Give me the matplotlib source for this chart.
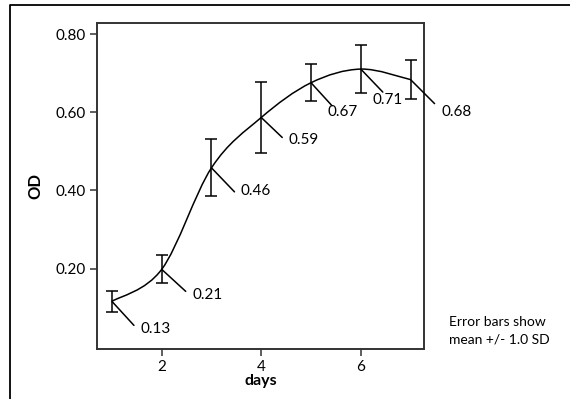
import matplotlib
matplotlib.use("Agg")
import matplotlib.pyplot as plt
from matplotlib.path import Path
from matplotlib.patches import PathPatch
import numpy as np

plt.rcParams['font.family'] = ['Lato', 'DejaVu Sans']

days = [1, 2, 3, 4, 5, 6, 7]
od_mean = [0.116, 0.198, 0.458, 0.587, 0.676, 0.711, 0.684]
od_sd = [0.026, 0.036, 0.073, 0.091, 0.048, 0.061, 0.050]
labels = ["0.13", "0.21", "0.46", "0.59", "0.67", "0.71", "0.68"]
xticks = [2, 4, 6]
yticks = [0.20, 0.40, 0.60, 0.80]
ytick_labels = ["0.20", "0.40", "0.60", "0.80"]

# label leader-line end and text offsets (pixels, right/down)
leader_off = [(22, 24), (24, 22), (23, 24), (21, 20), (21, 23), (22, 23), (24, 24)]
text_off = [(29, 28), (31, 26), (29, 23), (27, 23), (16, 29), (12, 31), (31, 32)]

fig = plt.figure(figsize=(5.70, 3.99), dpi=100)
ax = fig.add_axes([97/570, 1-349/399, (424-97)/570, (349-23)/399])

# outer border (top and left lines)
fig.add_artist(plt.Line2D([10/570, 10/570, 1.0], [0.0, 1-5/399, 1-5/399],
                          transform=fig.transFigure, color='black', lw=1.3))

# smooth curve (Catmull-Rom as cubic Bezier path)
x = np.array(days, float)
y = np.array(od_mean, float)
n = len(x)
verts = [(x[0], y[0])]
codes = [Path.MOVETO]
for i in range(n - 1):
    p0 = np.array([x[max(i-1, 0)], y[max(i-1, 0)]])
    p1 = np.array([x[i], y[i]])
    p2 = np.array([x[i+1], y[i+1]])
    p3 = np.array([x[min(i+2, n-1)], y[min(i+2, n-1)]])
    c1 = p1 + (p2 - p0) / 6.0
    c2 = p2 - (p3 - p1) / 6.0
    verts += [tuple(c1), tuple(c2), tuple(p2)]
    codes += [Path.CURVE4] * 3
ax.add_patch(PathPatch(Path(verts, codes), fill=False, edgecolor='black', lw=1.1))

ax.errorbar(days, od_mean, yerr=od_sd, fmt='none', ecolor='black',
            elinewidth=1.1, capsize=4, capthick=1.1)

for xi, yi, lab, lo, to in zip(days, od_mean, labels, leader_off, text_off):
    ax.annotate('', xy=(xi, yi), xytext=(lo[0], -lo[1]), textcoords='offset pixels',
                arrowprops=dict(arrowstyle='-', shrinkA=0, shrinkB=0, lw=1.1, color='black'))
    ax.annotate(lab, xy=(xi, yi), xytext=(to[0], -to[1]), textcoords='offset pixels',
                ha='left', va='center', fontsize=11, annotation_clip=False)

ax.set_xlim(0.70, 7.27)
ax.set_ylim(-0.006, 0.829)
ax.set_xticks(xticks)
ax.set_xticklabels([str(t) for t in xticks])
ax.set_yticks(yticks)
ax.set_yticklabels(ytick_labels)
ax.tick_params(direction='out', length=5, width=1.1, labelsize=11, pad=3, color='#333333')
for s in ax.spines.values():
    s.set_linewidth(1.4)
    s.set_color('#333333')

ax.set_xlabel('days', fontsize=11.5, fontweight='bold', labelpad=0)
ax.set_ylabel('OD', fontsize=12, fontweight='bold', labelpad=9)

fig.text(449/570, 1-322/399, 'Error bars show', fontsize=10, ha='left', va='center')
fig.text(449/570, 1-340/399, 'mean +/- 1.0 SD', fontsize=10, ha='left', va='center')

fig.savefig('out.png', dpi=100)
